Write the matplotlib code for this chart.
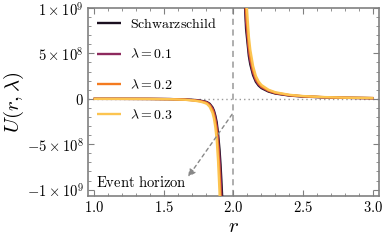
import numpy as np
import matplotlib
matplotlib.use("Agg")
import matplotlib.pyplot as plt
from matplotlib.ticker import FixedLocator, MultipleLocator

plt.rcParams['mathtext.fontset'] = 'cm'
plt.rcParams['font.family'] = ['DejaVu Serif']

# ---------------- data ----------------
labels = [r'$\mathrm{Schwarzschild}$', r'$\lambda = 0.1$', r'$\lambda = 0.2$', r'$\lambda = 0.3$']
colors = ['#1b1020', '#8e2a5e', '#f47b20', '#fcc450']

# left branch (r < 2), U in units of 1e8
r_left = [1.00, 1.20, 1.40, 1.55, 1.65, 1.72, 1.76, 1.79, 1.81, 1.83, 1.85,
          1.86, 1.87, 1.88, 1.89, 1.90, 1.907, 1.913, 1.918, 1.922]
U_left_s = [-0.001, -0.003, -0.01, -0.03, -0.07, -0.13, -0.2, -0.28, -0.36, -0.55, -0.95,
            -1.3, -1.85, -2.6, -3.9, -5.6, -7.2, -8.9, -10.5, -12]
U_left_1 = [-0.0011, -0.0033, -0.011, -0.033, -0.077, -0.145, -0.22, -0.31, -0.40, -0.61, -1.06,
            -1.45, -2.1, -2.95, -4.5, -6.6, -8.5, -10.6, -12.6, -14.4]
U_left_2 = [-0.0013, -0.004, -0.013, -0.039, -0.09, -0.17, -0.26, -0.36, -0.47, -0.72, -1.25,
            -1.75, -2.5, -3.6, -5.5, -8.2, -10.8, -13.5, -16, -18.5]
U_left_3 = [-0.0015, -0.005, -0.015, -0.045, -0.1, -0.2, -0.3, -0.43, -0.56, -0.88, -1.55,
            -2.15, -3.1, -4.5, -6.9, -10.2, -13.5, -17, -20, -23]

# right branch (r > 2), U in units of 1e8
r_right = [2.077, 2.083, 2.09, 2.10, 2.11, 2.12, 2.14, 2.16, 2.18, 2.20,
           2.25, 2.30, 2.40, 2.50, 2.65, 2.80, 3.00]
U_right_s = [12, 10, 7.7, 6.2, 4.7, 3.8, 2.6, 1.87, 1.45, 1.18,
             0.80, 0.58, 0.36, 0.25, 0.16, 0.11, 0.07]
U_right_1 = [13.2, 11, 8.5, 6.8, 5.15, 4.15, 2.83, 2.02, 1.56, 1.27,
             0.86, 0.62, 0.38, 0.265, 0.168, 0.115, 0.074]
U_right_2 = [15, 12.5, 9.6, 7.7, 5.8, 4.65, 3.15, 2.22, 1.7, 1.37,
             0.92, 0.66, 0.41, 0.28, 0.18, 0.12, 0.078]
U_right_3 = [18, 15, 11.5, 9.0, 6.8, 5.4, 3.6, 2.5, 1.9, 1.52,
             1.0, 0.72, 0.44, 0.30, 0.19, 0.13, 0.085]

U_scale = 1e8
horizon_r = 2.0

x_ticks = [1.0, 1.5, 2.0, 2.5, 3.0]
x_ticklabels = ['1.0', '1.5', '2.0', '2.5', '3.0']
y_ticks = [-1e9, -5e8, 0, 5e8, 1e9]
y_ticklabels = [r'$-1\times10^{9}$', r'$-5\times10^{8}$', r'$0$', r'$5\times10^{8}$', r'$1\times10^{9}$']

annot_text = r'$\mathrm{Event\ horizon}$'

# ---------------- figure ----------------
fig = plt.figure(figsize=(3.83, 2.41), dpi=100)
ax = fig.add_axes([88/383, 1-196/241, (379-88)/383, (196-8)/241])

gray = '#808080'
ax.axhline(0, color='#999999', ls=(0, (1, 2.2)), lw=1.0, zorder=1)
ax.axvline(horizon_r, color='#999999', ls=(0, (4, 3)), lw=1.1, zorder=1)

lefts = [U_left_s, U_left_1, U_left_2, U_left_3]
rights = [U_right_s, U_right_1, U_right_2, U_right_3]
for lab, c, ul, ur in zip(labels, colors, lefts, rights):
    ax.plot(r_left, np.array(ul) * U_scale, color=c, lw=1.7, label=lab, zorder=3,
            solid_capstyle='butt')
    ax.plot(r_right, np.array(ur) * U_scale, color=c, lw=1.7, zorder=3,
            solid_capstyle='butt')

ax.set_xlim(0.96, 3.04)
ax.set_ylim(-1.07e9, 1.0e9)

ax.xaxis.set_major_locator(FixedLocator(x_ticks))
ax.set_xticklabels([r'$' + t + '$' for t in x_ticklabels])
ax.xaxis.set_minor_locator(MultipleLocator(0.1))
ax.yaxis.set_major_locator(FixedLocator(y_ticks))
ax.set_yticklabels(y_ticklabels)
ax.yaxis.set_minor_locator(MultipleLocator(1e8))

ax.tick_params(which='both', direction='in', top=True, right=True, color=gray,
               labelsize=10.5, pad=3)
ax.tick_params(which='major', length=4, width=0.8)
ax.tick_params(which='minor', length=2, width=0.6)
for s in ax.spines.values():
    s.set_color(gray)
    s.set_linewidth(1.2)

ax.set_xlabel(r'$r$', fontsize=15, labelpad=1)
ax.set_ylabel(r'$U(r,\lambda)$', fontsize=15, labelpad=1)

leg = ax.legend(loc='upper left', bbox_to_anchor=(0.0, 1.0), frameon=False,
                fontsize=10, handlelength=1.7, handletextpad=0.7,
                labelspacing=1.18, borderaxespad=0.3, borderpad=0.35)

# annotation
ax.annotate('', xy=(1.675, -8.6e8), xytext=(1.99, -1.7e8),
            arrowprops=dict(arrowstyle='-|>', color='#888888', lw=1.0,
                            linestyle=(0, (2.5, 2.5)), mutation_scale=11,
                            shrinkA=0, shrinkB=0))
ax.text(1.34, -9.2e8, annot_text, fontsize=10.5, ha='center', va='center')

fig.savefig('out.png', dpi=100)
